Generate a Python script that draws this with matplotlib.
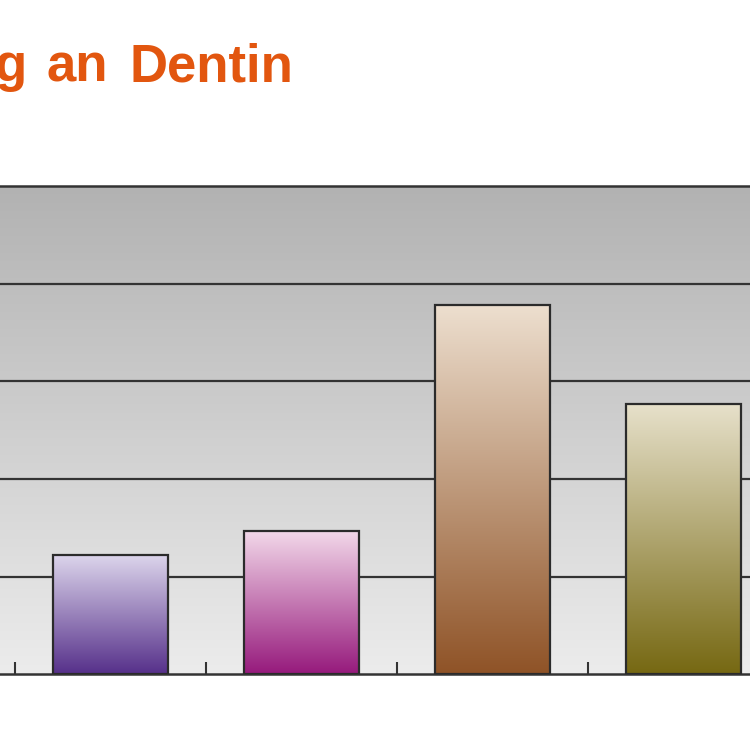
import numpy as np
import matplotlib
matplotlib.use("Agg")
import matplotlib.pyplot as plt
from matplotlib.colors import LinearSegmentedColormap

# values (gridline spacing = 1 unit)
positions = [0, 1, 2, 3]
values = [1.22, 1.47, 3.78, 2.77]
top_colors = ["#ddd6ec", "#f3d9ea", "#eddfcf", "#e7e1cb"]
bottom_colors = ["#56308a", "#961a7c", "#8f5327", "#766812"]
tick_positions = [-0.5, 0.5, 1.5, 2.5]
title_words = ["g", "an", "Dentin"]

fig = plt.figure(figsize=(7.5, 7.5), dpi=100)
fig.patch.set_facecolor("white")

# the chart is cropped on both sides, so the axes fill the full width
ax = fig.add_axes([0.0, 0.1007, 1.0, 0.6513])
ax.set_xlim(-0.5785, 3.348)
ax.set_ylim(0, 5)

# grey vertical gradient background
bg = np.linspace(0, 1, 256).reshape(-1, 1)
bg_cmap = LinearSegmentedColormap.from_list("bg", ["#ececec", "#b2b2b2"])
ax.imshow(bg, cmap=bg_cmap, extent=(-0.5785, 3.348, 0, 5), origin="lower",
          aspect="auto", zorder=0.1)

# gridlines
for y in [1, 2, 3, 4]:
    ax.axhline(y, color="#333333", lw=1.6, zorder=0.5)

bars = ax.bar(positions, values, width=0.6, facecolor="none",
              edgecolor="#2b2b2b", linewidth=1.6, zorder=3)

# gradient fill for each bar
grad = np.linspace(0, 1, 256).reshape(-1, 1)
for bar, c_top, c_bot in zip(bars, top_colors, bottom_colors):
    cmap = LinearSegmentedColormap.from_list("b", [c_bot, c_top])
    x0 = bar.get_x()
    w = bar.get_width()
    h = bar.get_height()
    im = ax.imshow(grad, cmap=cmap, extent=(x0, x0 + w, 0, h), origin="lower",
                   aspect="auto", zorder=2)
    im.set_clip_path(bar)

ax.set_xlim(-0.5785, 3.348)
ax.set_ylim(0, 5)

for side in ["left", "right"]:
    ax.spines[side].set_visible(False)
for side in ["top", "bottom"]:
    ax.spines[side].set_color("#333333")
    ax.spines[side].set_linewidth(1.8)

ax.set_yticks([])
ax.set_xticks(tick_positions)
ax.set_xticklabels([])
ax.tick_params(axis="x", direction="in", length=8.5, width=1.5, color="#333333")

# title (cut off on the left in the original); the words sit a bit wider apart
title_style = dict(va="baseline", fontsize=38, fontweight="bold", color="#e2560f",
                   family=["Liberation Sans", "DejaVu Sans"])
base_y = 1 - 81 / 750
fig.text(27 / 750, base_y, title_words[0], ha="right", **title_style)
fig.text(47 / 750, base_y, title_words[1], ha="left", **title_style)
fig.text(293 / 750, base_y, title_words[2], ha="right", **title_style)

fig.savefig("out.png", dpi=100)
